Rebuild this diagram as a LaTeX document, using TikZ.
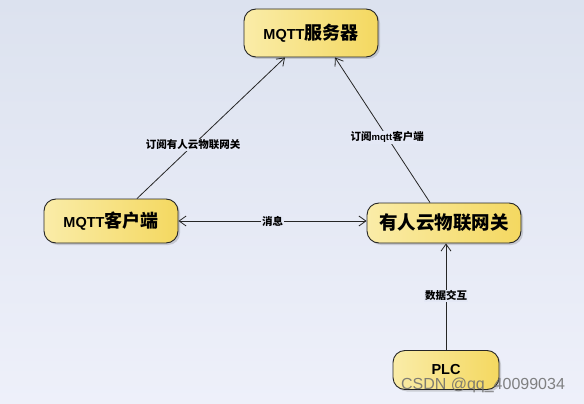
\documentclass[tikz,border=0pt]{standalone}
\usepackage{fontspec}
\setmainfont{Liberation Sans}
\newfontfamily\cjk{Noto Sans CJK SC}
\usetikzlibrary{arrows.meta,shadows}
\definecolor{bgtop}{RGB}{220,226,239}
\definecolor{bgbot}{RGB}{238,240,250}
\definecolor{bgmid}{RGB}{228,232,245}
\definecolor{boxL}{RGB}{250,236,168}
\definecolor{boxR}{RGB}{244,216,96}
\newcommand\zh[1]{{\cjk\bfseries #1}}
\begin{document}
\begin{tikzpicture}[x=1pt,y=-1pt,
  box/.style={draw=black!85, line width=0.9pt, rounded corners=12pt,
    left color=boxL, right color=boxR,
    drop shadow={shadow xshift=2pt,shadow yshift=-2pt,opacity=0.25,fill=black!60},
    inner sep=0pt, font=\bfseries\fontsize{14.5}{16}\selectfont},
  conn/.style={draw=black!85, line width=0.8pt},
  tip/.style={-{Straight Barb[length=7pt,width=10pt]}},
  lbl/.style={fill=bgmid, inner sep=1pt, font=\fontsize{10.5}{12}\selectfont}]
\shade[top color=bgtop,bottom color=bgbot] (0,0) rectangle (584,404);
\useasboundingbox (0,0) rectangle (584,404);

\node[box, minimum width=134pt, minimum height=48pt] (server) at (311,33)
  {MQTT\zh{\fontsize{18}{20}\selectfont 服务器}};
\node[box, minimum width=134pt, minimum height=44pt] (client) at (111,221)
  {MQTT\zh{\fontsize{18}{20}\selectfont 客户端}};
\node[box, minimum width=154pt, minimum height=40pt] (gw) at (444,223)
  {\zh{\fontsize{18.5}{20}\selectfont 有人云物联网关}};
\node[box, minimum width=106pt, minimum height=39pt] (plc) at (446,370) {PLC};

\draw[conn,tip] ([xshift=26pt]client.north) -- node[lbl,pos=0.38] (l1) {\zh{订阅有人云物联网关}} ([xshift=-26pt]server.south);
\draw[conn,tip] ([xshift=-14pt]gw.north) -- node[lbl,pos=0.45] (l2) {\zh{订阅}\bfseries\fontsize{9.5}{12}\selectfont mqtt\zh{\fontsize{10.5}{12}\selectfont 客户端}} ([xshift=24pt]server.south);
\draw[conn,{Straight Barb[length=7pt,width=10pt]}-{Straight Barb[length=7pt,width=10pt]}] (client.east) -- node[lbl,pos=0.5] (l3) {\zh{消息}} (client.east -| gw.west);
\draw[conn,tip] (plc.north) -- node[lbl,pos=0.51] (l4) {\zh{数据交互}} (plc.north |- gw.south);

\node[font=\fontsize{16}{18}\selectfont, text=gray!85!black, opacity=0.85] (wm) at (483,385) {CSDN @qq\_40099034};
\end{tikzpicture}
\end{document}
